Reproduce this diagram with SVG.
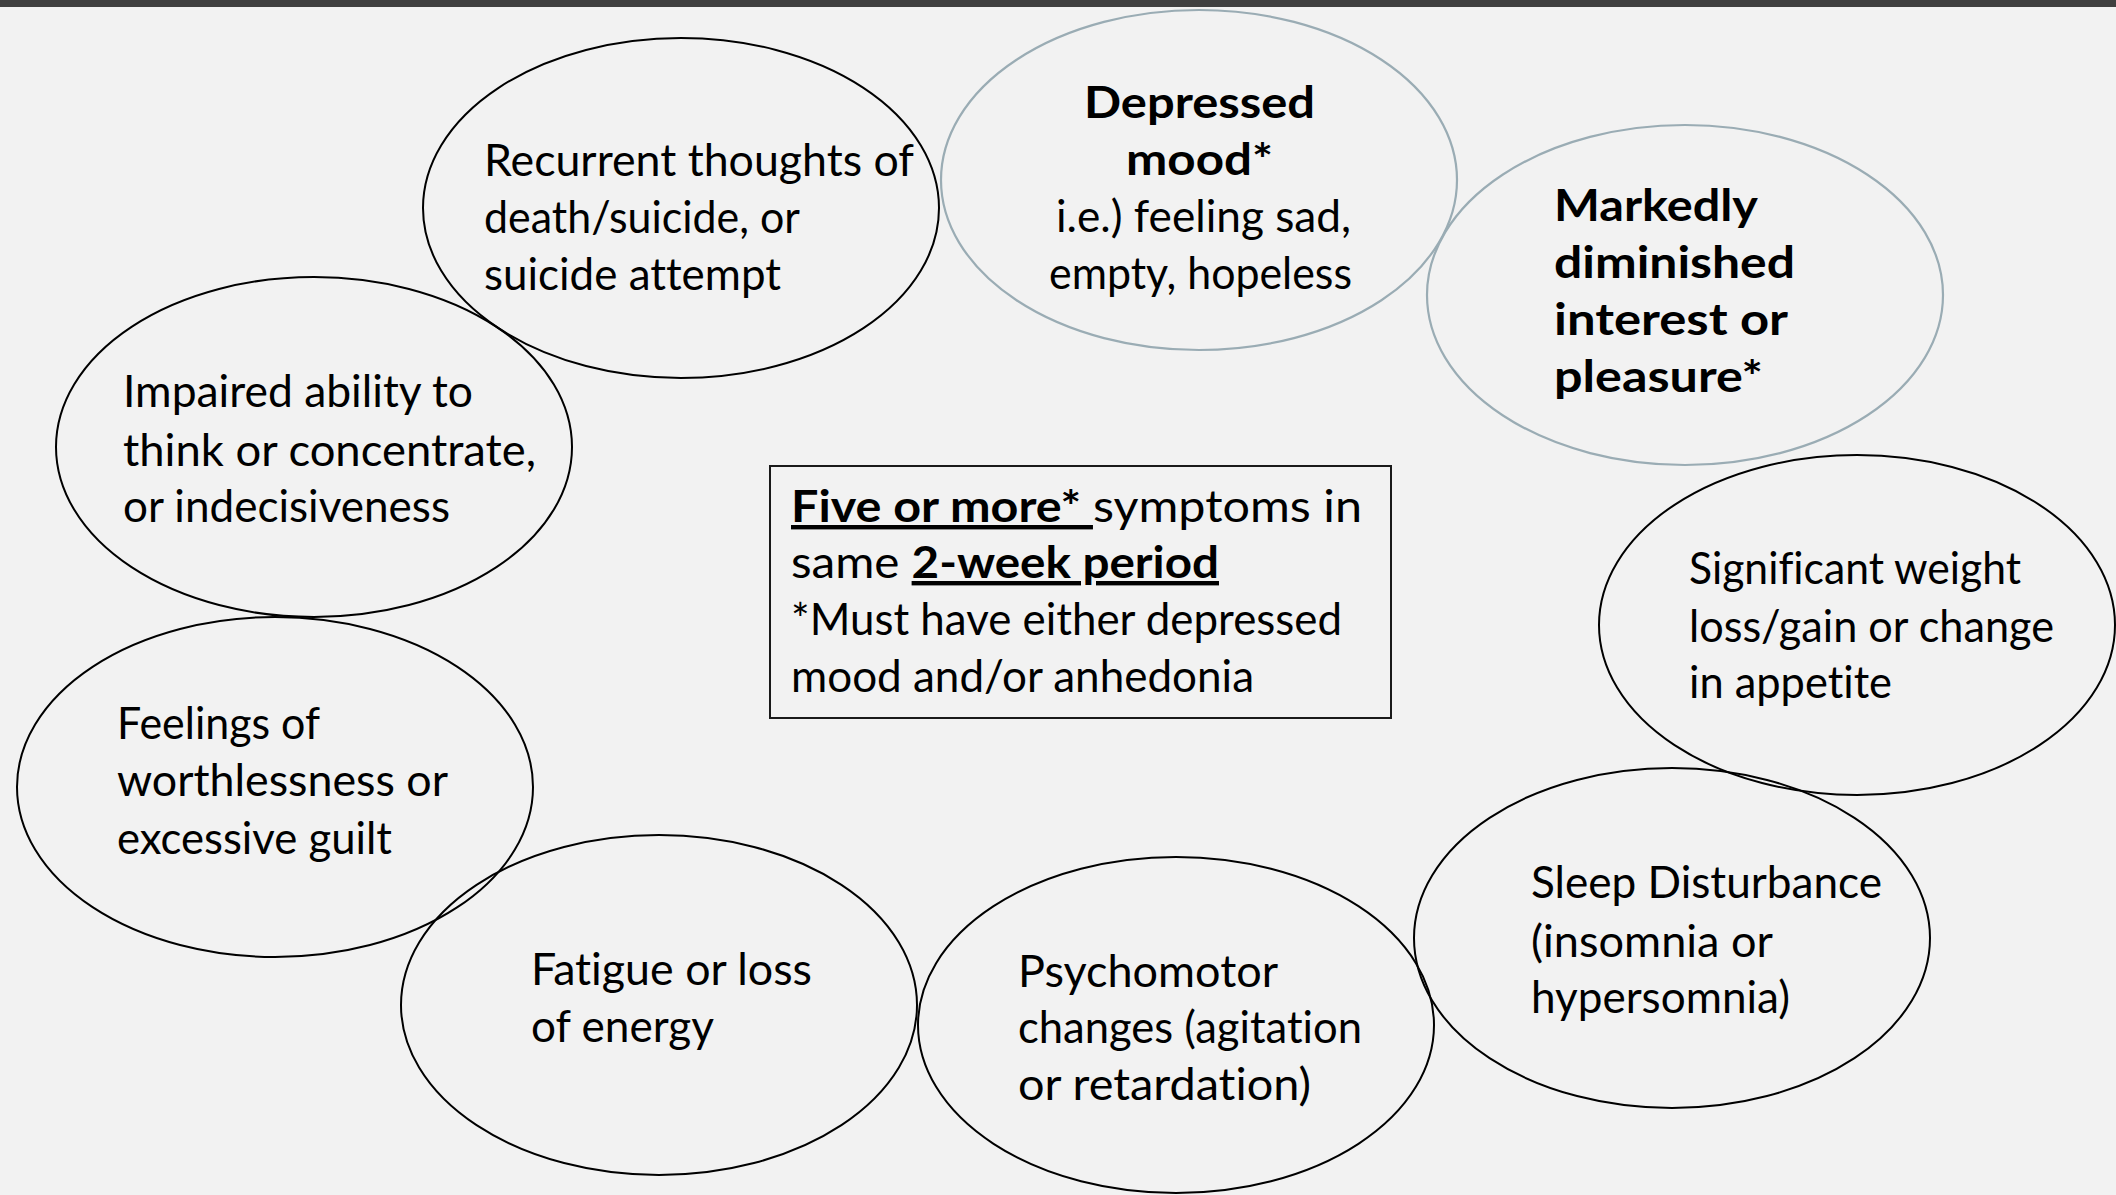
<svg xmlns="http://www.w3.org/2000/svg" width="2116" height="1195" viewBox="0 0 2116 1195">
<style>
  text { font-family: Lato, "Open Sans", "Liberation Sans", sans-serif; font-size: 44px; fill: #000; font-variant-ligatures: none; }
  .b { font-weight: bold; }
  .u { text-decoration: underline; }
  .dark { fill: none; stroke: #000; stroke-width: 2; }
  .grey { fill: none; stroke: #9aacb4; stroke-width: 2.2; }
</style>
<rect x="0" y="0" width="2116" height="1195" fill="#f2f2f2"/>
<rect x="0" y="0" width="2116" height="7" fill="#404040"/>

<g id="recurrent">
  <ellipse class="dark" cx="681" cy="208" rx="258" ry="170"/>
  <text x="484" y="176" textLength="430" lengthAdjust="spacingAndGlyphs">Recurrent thoughts of</text>
  <text x="484" y="233" textLength="316" lengthAdjust="spacingAndGlyphs">death/suicide, or</text>
  <text x="484" y="290" textLength="297" lengthAdjust="spacingAndGlyphs">suicide attempt</text>
</g>

<g id="depressed">
  <ellipse class="grey" cx="1199" cy="180" rx="258" ry="170"/>
  <text class="b" x="1084" y="118" textLength="231" lengthAdjust="spacingAndGlyphs">Depressed</text>
  <text class="b" x="1126" y="175" textLength="147" lengthAdjust="spacingAndGlyphs">mood*</text>
  <text x="1056" y="232" textLength="295" lengthAdjust="spacingAndGlyphs">i.e.) feeling sad,</text>
  <text x="1049" y="289" textLength="303" lengthAdjust="spacingAndGlyphs">empty, hopeless</text>
</g>

<g id="markedly">
  <ellipse class="grey" cx="1685" cy="295" rx="258" ry="170"/>
  <text class="b" x="1554" y="221" textLength="204" lengthAdjust="spacingAndGlyphs">Markedly</text>
  <text class="b" x="1554" y="278" textLength="241" lengthAdjust="spacingAndGlyphs">diminished</text>
  <text class="b" x="1554" y="335" textLength="234" lengthAdjust="spacingAndGlyphs">interest or</text>
  <text class="b" x="1554" y="392" textLength="209" lengthAdjust="spacingAndGlyphs">pleasure*</text>
</g>

<g id="weight">
  <ellipse class="dark" cx="1857" cy="625" rx="258" ry="170"/>
  <text x="1689" y="584" textLength="332" lengthAdjust="spacingAndGlyphs">Significant weight</text>
  <text x="1689" y="642" textLength="365" lengthAdjust="spacingAndGlyphs">loss/gain or change</text>
  <text x="1689" y="698" textLength="203" lengthAdjust="spacingAndGlyphs">in appetite</text>
</g>

<g id="sleep">
  <ellipse class="dark" cx="1672" cy="938" rx="258" ry="170"/>
  <text x="1531" y="898" textLength="351" lengthAdjust="spacingAndGlyphs">Sleep Disturbance</text>
  <text x="1531" y="957" textLength="242" lengthAdjust="spacingAndGlyphs">(insomnia or</text>
  <text x="1531" y="1013" textLength="259" lengthAdjust="spacingAndGlyphs">hypersomnia)</text>
</g>

<g id="psychomotor">
  <ellipse class="dark" cx="1176" cy="1025" rx="258" ry="168"/>
  <text x="1018" y="987" textLength="260" lengthAdjust="spacingAndGlyphs">Psychomotor</text>
  <text x="1018" y="1043" textLength="344" lengthAdjust="spacingAndGlyphs">changes (agitation</text>
  <text x="1018" y="1100" textLength="293" lengthAdjust="spacingAndGlyphs">or retardation)</text>
</g>

<g id="fatigue">
  <ellipse class="dark" cx="659" cy="1005" rx="258" ry="170"/>
  <text x="531" y="985" textLength="281" lengthAdjust="spacingAndGlyphs">Fatigue or loss</text>
  <text x="531" y="1042" textLength="183" lengthAdjust="spacingAndGlyphs">of energy</text>
</g>

<g id="worthlessness">
  <ellipse class="dark" cx="275" cy="787" rx="258" ry="170"/>
  <text x="117" y="739" textLength="203" lengthAdjust="spacingAndGlyphs">Feelings of</text>
  <text x="117" y="796" textLength="331" lengthAdjust="spacingAndGlyphs">worthlessness or</text>
  <text x="117" y="854" textLength="275" lengthAdjust="spacingAndGlyphs">excessive guilt</text>
</g>

<g id="concentrate">
  <ellipse class="dark" cx="314" cy="447" rx="258" ry="170"/>
  <text x="123" y="407" textLength="350" lengthAdjust="spacingAndGlyphs">Impaired ability to</text>
  <text x="123" y="466" textLength="413" lengthAdjust="spacingAndGlyphs">think or concentrate,</text>
  <text x="123" y="522" textLength="327" lengthAdjust="spacingAndGlyphs">or indecisiveness</text>
</g>

<g id="criteria">
  <rect x="770" y="466" width="621" height="252" fill="none" stroke="#1a1a1a" stroke-width="2"/>
  <text x="791" y="522" textLength="571" lengthAdjust="spacingAndGlyphs"><tspan class="b u">Five or more* </tspan>symptoms in</text>
  <text x="791" y="578" textLength="428" lengthAdjust="spacingAndGlyphs">same <tspan class="b u">2-week period</tspan></text>
  <text x="791" y="635" textLength="551" lengthAdjust="spacingAndGlyphs">*Must have either depressed</text>
  <text x="791" y="692" textLength="463" lengthAdjust="spacingAndGlyphs">mood and/or anhedonia</text>
</g>

<g id="connectors"></g>
</svg>
